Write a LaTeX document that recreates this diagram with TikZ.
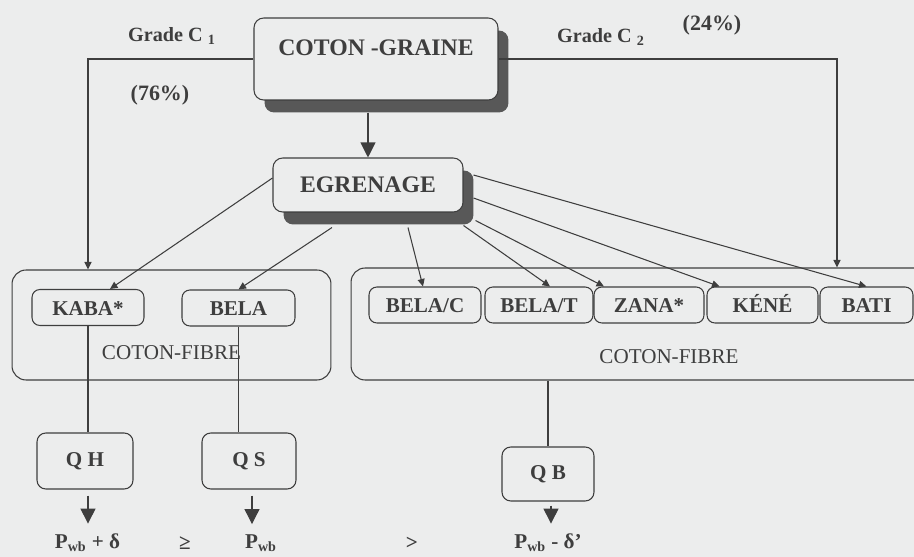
\documentclass[tikz,border=0pt]{standalone}
\usepackage{fontspec}
\setmainfont{Liberation Serif}
\usetikzlibrary{arrows.meta,shadows,calc}
\definecolor{paper}{RGB}{236,237,237}
\definecolor{ink}{RGB}{62,62,62}
\definecolor{shade}{RGB}{88,88,88}
\begin{document}
\begin{tikzpicture}[x=0.02cm,y=-0.02cm,line width=0.6pt,color=ink]
  \tikzstyle{main}=[draw, rounded corners=5.5pt, fill=paper, inner sep=0pt,
    font=\fontsize{13.5}{15}\selectfont\bfseries,
    drop shadow={shadow xshift=0.21cm, shadow yshift=-0.25cm, fill=shade, opacity=1}]
  \tikzstyle{group}=[draw, rounded corners=8pt, inner ysep=0pt, font=\fontsize{12}{14}\selectfont]
  \tikzstyle{kind}=[draw, rounded corners=4.5pt, fill=paper, minimum height=0.72cm,
    text height=9pt, text depth=0pt, font=\fontsize{12}{14}\selectfont\bfseries]
  \tikzstyle{quality}=[draw, rounded corners=5pt, fill=paper, minimum width=1.9cm,
    font=\fontsize{12}{14}\selectfont\bfseries]
  \tikzstyle{price}=[font=\fontsize{12}{14}\selectfont\bfseries]
  \tikzstyle{grade}=[font=\fontsize{11.5}{13}\selectfont\bfseries]
  \tikzstyle{big}=[-{Triangle[length=0.3cm,width=0.3cm]}]
  \tikzstyle{small}=[-{Triangle[length=0.15cm,width=0.14cm]}]

  \useasboundingbox (0,0) rectangle (914,557);
  \clip (0,0) rectangle (914,557);
  \fill[paper] (0,0) rectangle (914,557);

  % coton graine et egrenage
  \node[main, minimum width=4.88cm, text height=0.75cm, text depth=0.89cm] (grain) at (376,59) {COTON -GRAINE};
  \node[main, minimum width=3.8cm, minimum height=1.08cm] (egr) at (368,185) {EGRENAGE};

  \node[grade] (gradeone) at (172,36) {Grade C \textsubscript{1}};
  \node[grade] (gradetwo) at (601,37) {Grade C \textsubscript{2}};
  \node[grade, font=\fontsize{12.5}{14}\selectfont\bfseries] (pctone) at (160,95) {(76\%)};
  \node[grade, font=\fontsize{12.5}{14}\selectfont\bfseries] (pcttwo) at (712,25) {(24\%)};

  % coton-fibre
  \node[group, minimum width=6.38cm, text height=1.8cm, text depth=0.4cm] (leftgrp) at (171.5,325) {COTON-FIBRE};
  \node[group, minimum width=12.72cm, text height=1.92cm, text depth=0.32cm] (rightgrp) at (669,324) {COTON-FIBRE};

  \node[kind, minimum width=2.24cm] (kaba) at (88,307.5) {KABA*};
  \node[kind, minimum width=2.26cm] (bela) at (238.5,308) {BELA};
  \node[kind, minimum width=2.24cm] (belac) at (425,305) {BELA/C};
  \node[kind, minimum width=2.16cm] (belat) at (539,305) {BELA/T};
  \node[kind, minimum width=2.2cm] (zana) at (649,305) {ZANA*};
  \node[kind, minimum width=2.22cm] (kene) at (762.5,305) {KÉNÉ};
  \node[kind, minimum width=1.86cm] (bati) at (866.5,305) {BATI};

  % qualites et prix
  \node[quality, minimum width=1.92cm, minimum height=1.12cm] (qh) at (85,461) {Q H};
  \node[quality, minimum width=1.88cm, minimum height=1.12cm] (qs) at (249,461) {Q S};
  \node[quality, minimum width=1.84cm, minimum height=1.08cm] (qb) at (548,474) {Q B};

  \node[price] (ph) at (87.5,543) {P\textsubscript{wb} + δ};
  \node[price] (geq) at (185,543) {≥};
  \node[price] (ps) at (261,543) {P\textsubscript{wb}};
  \node[price] (gt) at (412,543) {>};
  \node[price] (pb) at (548,543) {P\textsubscript{wb} - δ'};

  \draw[big] ($(grain.south -| egr.north)+(0,12)$) -- (egr.north);
  \draw[small] (grain.west) -| (kaba.north |- leftgrp.north);
  \draw[small] (grain.east) -| ($(bati.north |- rightgrp.north)+(-29.5,0)$);

  \draw[small] ($(egr.west)+(0,-7)$) -- ($(kaba.north)+(22,0)$);
  \draw[small] ($(egr.south)+(-36,15)$) -- (bela.north);
  \draw[small] ($(egr.south)+(40,15)$) -- ($(belac.north)+(-2,0)$);
  \draw[small] ($(egr.south east)+(0,13)$) -- ($(belat.north)+(11,0)$);
  \draw[small] ($(egr.south east)+(12,8)$) -- ($(zana.north)+(-45,0)$);
  \draw[small] ($(egr.east)+(10,13)$) -- ($(kene.north)+(-43,0)$);
  \draw[small] ($(egr.east)+(10,-10)$) -- (bati.north);

  \draw (kaba.south) -- (kaba.south |- qh.north);
  \draw (bela.south) -- (bela.south |- qs.north);
  \draw (qb.north |- rightgrp.south) -- (qb.north);

  \draw[big] ($(qh.south)+(3,6)$) -- ($(qh.south |- ph.north)+(3,-4)$);
  \draw[big] ($(qs.south)+(3,6)$) -- ($(qs.south |- ps.north)+(3,-4)$);
  \draw[big] ($(qb.south)+(3,4)$) -- ($(qb.south |- pb.north)+(3,-4)$);
\end{tikzpicture}
\end{document}
